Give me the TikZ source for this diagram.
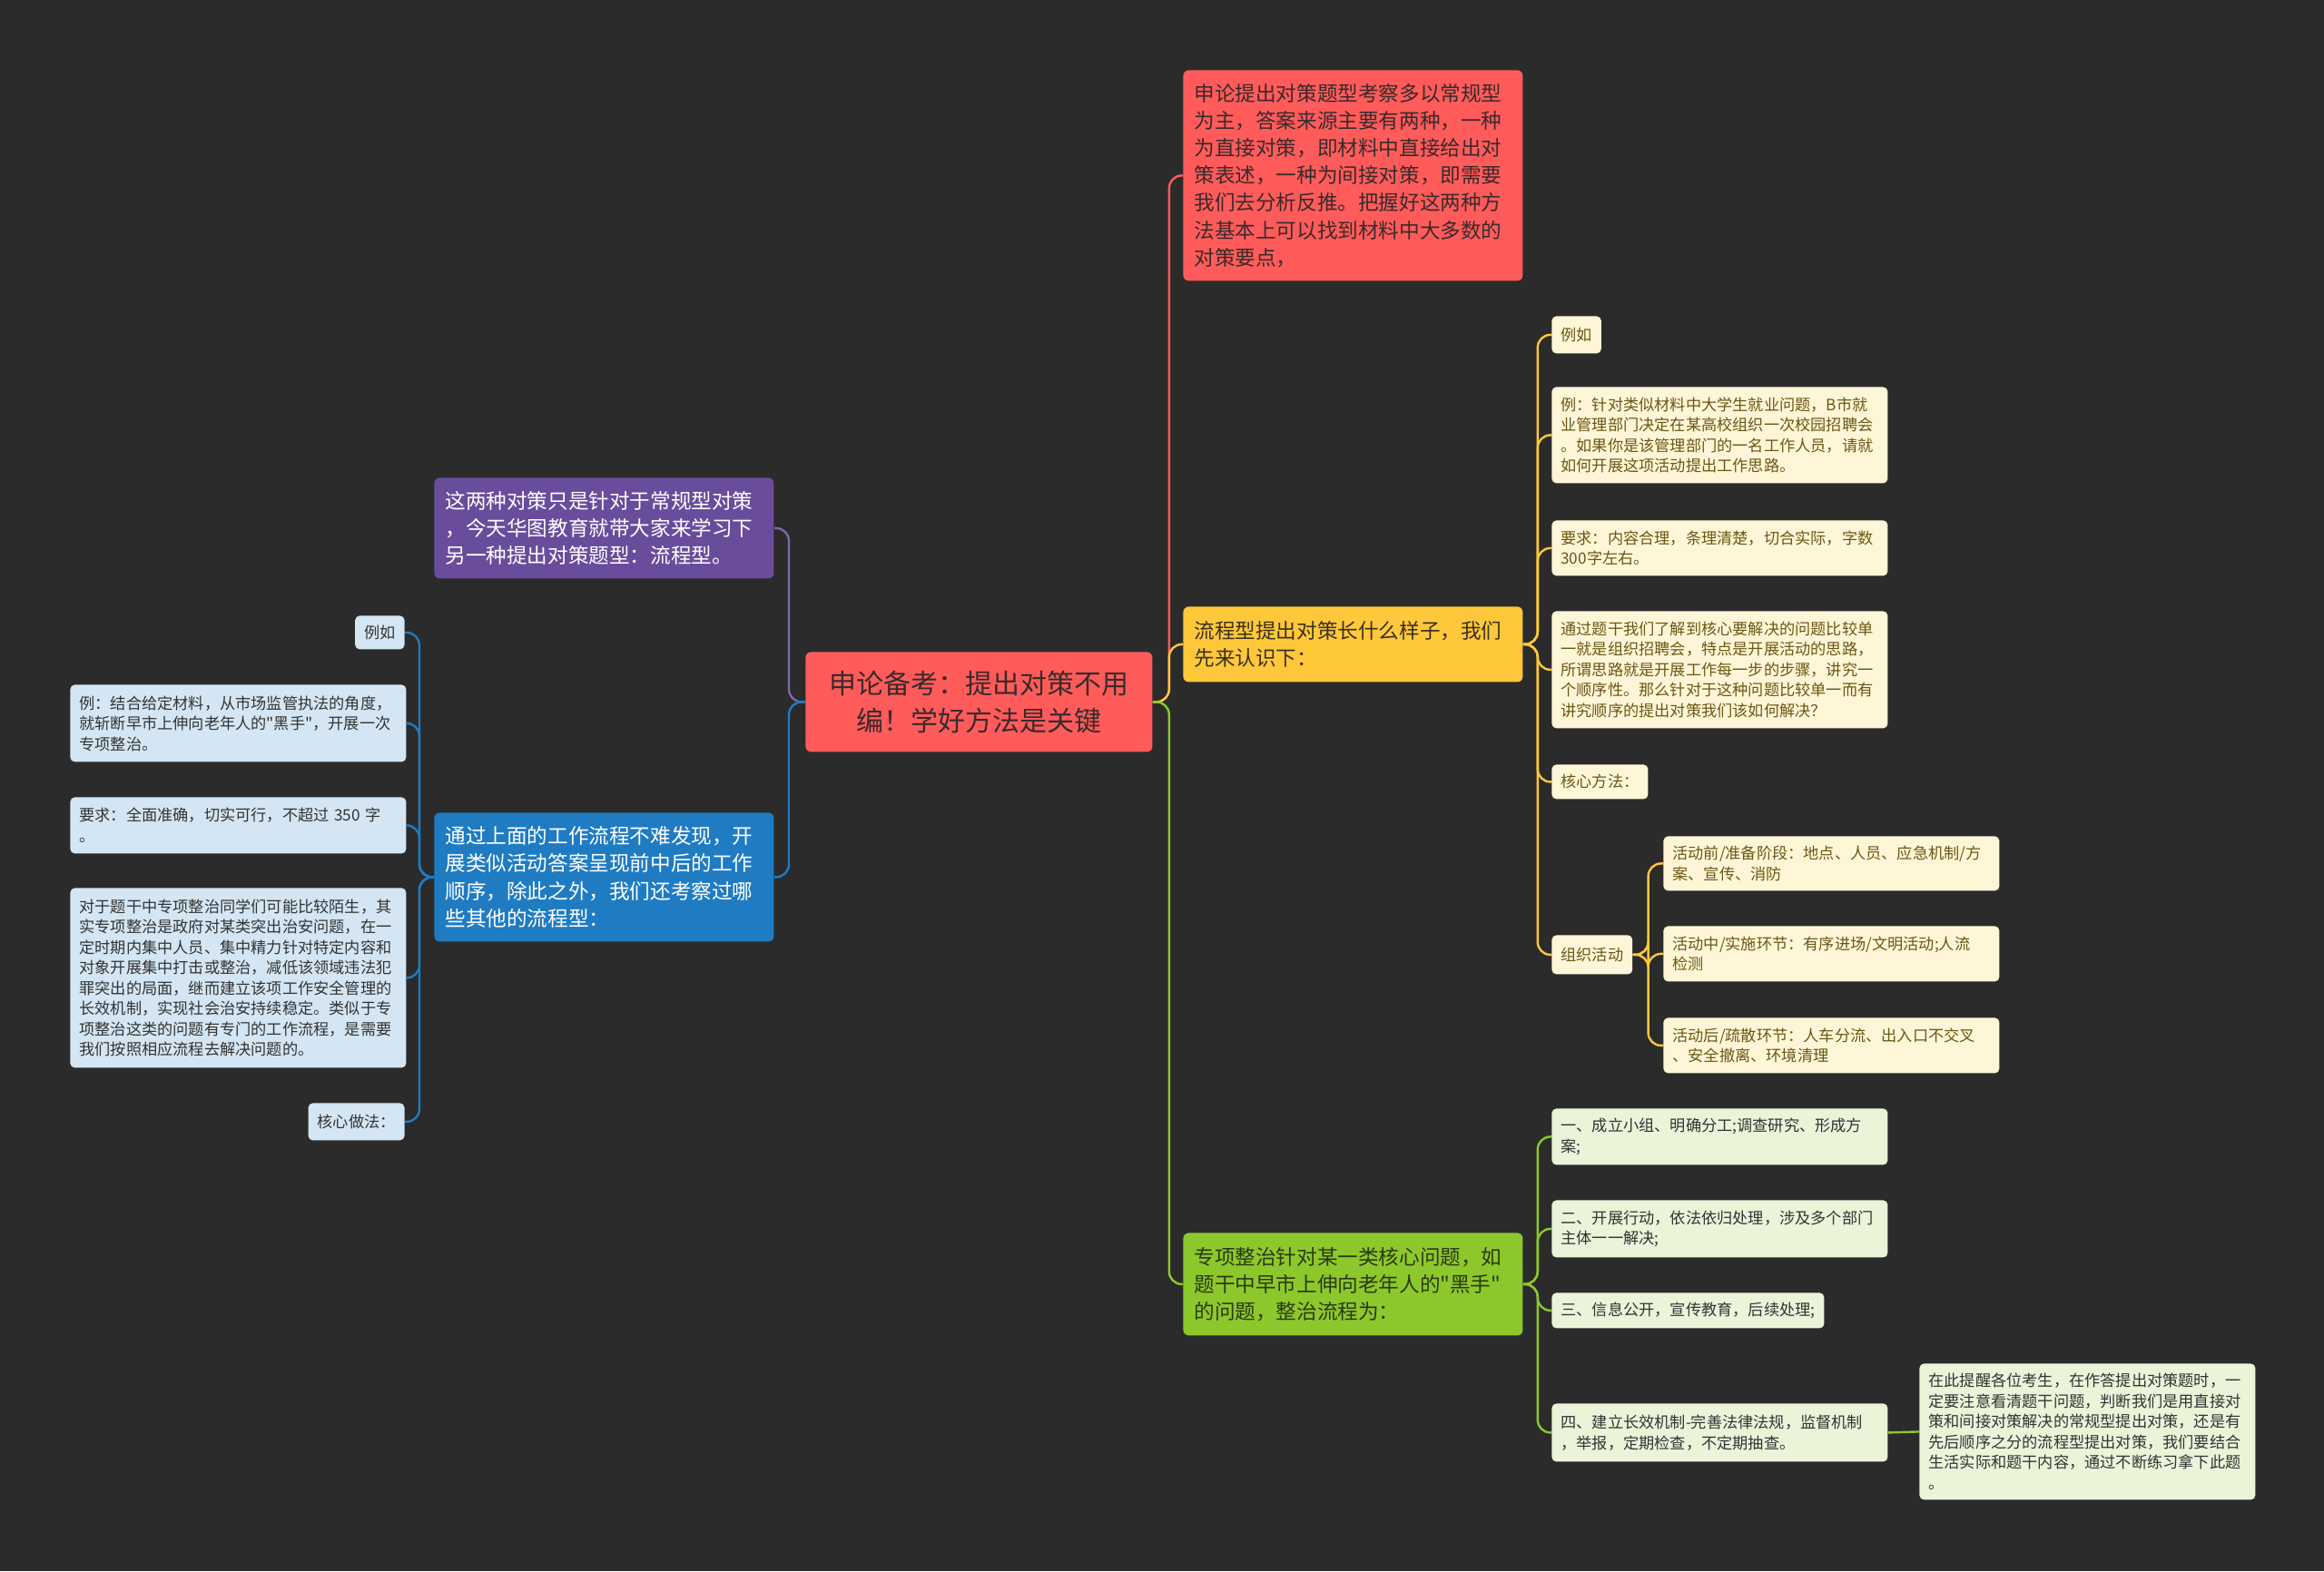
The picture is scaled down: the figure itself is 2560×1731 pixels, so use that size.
\documentclass[tikz,border=0pt]{standalone}
\usepackage{fontspec}
\newfontfamily\cjk{Noto Sans CJK SC}
\definecolor{bg}{HTML}{2B2B2B}
\definecolor{redF}{HTML}{FF5B5B}
\definecolor{redT}{HTML}{3A2A2A}
\definecolor{yelF}{HTML}{FFC83A}
\definecolor{yelT}{HTML}{3A3020}
\definecolor{grnF}{HTML}{8CC82C}
\definecolor{grnT}{HTML}{2B3A12}
\definecolor{purF}{HTML}{6A4C9C}
\definecolor{bluF}{HTML}{1F7CC3}
\definecolor{creF}{HTML}{FFF6D8}
\definecolor{creT}{HTML}{6B5714}
\definecolor{lgrF}{HTML}{EBF3D9}
\definecolor{lbuF}{HTML}{D4E6F3}
\definecolor{leafT}{HTML}{333333}
\tikzset{
  topic/.style={anchor=north west, rounded corners=3pt, inner xsep=6pt, inner ysep=0pt,
    align=left, text width=175pt, font=\cjk\fontsize{11.3pt}{15.1pt}\selectfont},
  leaf/.style={anchor=north west, rounded corners=2.5pt, inner xsep=5pt, inner ysep=0pt,
    align=left, font=\cjk\fontsize{8.6pt}{11.25pt}\selectfont},
  wideleaf/.style={leaf, text width=175pt},
  cream/.style={fill=creF, text=creT},
  lgreen/.style={fill=lgrF, text=leafT},
  lblue/.style={fill=lbuF, text=leafT},
  conn/.style={line width=1.2pt, rounded corners=7pt},
}
\begin{document}
\begin{tikzpicture}[x=0.5pt,y=-0.5pt]
\useasboundingbox (0,0) rectangle (2560,1731);
\fill[bg] (0,0) rectangle (2560,1731);

% center
\node[anchor=north west, rounded corners=3pt, fill=redF, text=redT, minimum width=191pt,
  minimum height=55pt, align=center, inner sep=0pt,
  font=\cjk\fontsize{15pt}{20.5pt}\selectfont] (c) at (887,718)
  {申论备考：提出对策不用\\编！学好方法是关键};

% right main topics
\node[topic, fill=redF, text=redT, minimum height=116pt] (r1) at (1303,77)
  {申论提出对策题型考察多以常规型\\为主，答案来源主要有两种，一种\\为直接对策，即材料中直接给出对\\策表述，一种为间接对策，即需要\\我们去分析反推。把握好这两种方\\法基本上可以找到材料中大多数的\\对策要点，};
\node[topic, fill=yelF, text=yelT, minimum height=41.5pt] (y1) at (1303,668)
  {流程型提出对策长什么样子，我们\\先来认识下：};
\node[topic, fill=grnF, text=grnT, minimum height=56.5pt] (g1) at (1303,1358)
  {专项整治针对某一类核心问题，如\\题干中早市上伸向老年人的"黑手"\\的问题，整治流程为：};

% left main topics
\node[topic, fill=purF, text=white, minimum height=55.5pt] (p1) at (478,526)
  {这两种对策只是针对于常规型对策\\，今天华图教育就带大家来学习下\\另一种提出对策题型：流程型。};
\node[topic, fill=bluF, text=white, minimum height=71pt] (b1) at (478,895)
  {通过上面的工作流程不难发现，开\\展类似活动答案呈现前中后的工作\\顺序，除此之外，我们还考察过哪\\些其他的流程型：};

% yellow children
\node[leaf, cream, minimum height=20.5pt] (y2) at (1709,348) {例如};
\node[wideleaf, cream, minimum height=53pt] (y3) at (1709,426)
  {例：针对类似材料中大学生就业问题，B市就\\业管理部门决定在某高校组织一次校园招聘会\\。如果你是该管理部门的一名工作人员，请就\\如何开展这项活动提出工作思路。};
\node[wideleaf, cream, minimum height=30.5pt] (y4) at (1709,573)
  {要求：内容合理，条理清楚，切合实际，字数\\300字左右。};
\node[wideleaf, cream, minimum height=64.5pt] (y5) at (1709,673)
  {通过题干我们了解到核心要解决的问题比较单\\一就是组织招聘会，特点是开展活动的思路，\\所谓思路就是开展工作每一步的步骤，讲究一\\个顺序性。那么针对于这种问题比较单一而有\\讲究顺序的提出对策我们该如何解决？};
\node[leaf, cream, minimum height=19pt] (y6) at (1709,842) {核心方法：};
\node[leaf, cream, minimum height=21.5pt] (y7) at (1709,1030) {组织活动};
\node[wideleaf, cream, minimum height=30pt] (a1) at (1832,921)
  {活动前/准备阶段：地点、人员、应急机制/方\\案、宣传、消防};
\node[wideleaf, cream, minimum height=30.5pt] (a2) at (1832,1020)
  {活动中/实施环节：有序进场/文明活动;人流\\检测};
\node[wideleaf, cream, minimum height=30.5pt] (a3) at (1832,1121)
  {活动后/疏散环节：人车分流、出入口不交叉\\、安全撤离、环境清理};

% green children
\node[wideleaf, lgreen, minimum height=31pt] (g2) at (1709,1221)
  {一、成立小组、明确分工;调查研究、形成方\\案;};
\node[wideleaf, lgreen, minimum height=31.5pt] (g3) at (1709,1322)
  {二、开展行动，依法依归处理，涉及多个部门\\主体一一解决;};
\node[leaf, lgreen, minimum height=19.5pt] (g4) at (1709,1424)
  {三、信息公开，宣传教育，后续处理;};
\node[wideleaf, lgreen, minimum height=32pt] (g5) at (1709,1546)
  {四、建立长效机制-完善法律法规，监督机制\\，举报，定期检查，不定期抽查。};
\node[wideleaf, lgreen, minimum height=75pt] (g6) at (2114,1502)
  {在此提醒各位考生，在作答提出对策题时，一\\定要注意看清题干问题，判断我们是用直接对\\策和间接对策解决的常规型提出对策，还是有\\先后顺序之分的流程型提出对策，我们要结合\\生活实际和题干内容，通过不断练习拿下此题\\。};

% blue children
\node[leaf, lblue, anchor=north east, minimum height=18.5pt] (b2) at (446,678) {例如};
\node[wideleaf, lblue, minimum height=42.5pt] (b3) at (77,754)
  {例：结合给定材料，从市场监管执法的角度，\\就斩断早市上伸向老年人的"黑手"，开展一次\\专项整治。};
\node[wideleaf, lblue, minimum height=31pt] (b4) at (77,878)
  {要求：全面准确，切实可行，不超过 350 字\\。};
\node[wideleaf, lblue, minimum height=99pt] (b5) at (77,978)
  {对于题干中专项整治同学们可能比较陌生，其\\实专项整治是政府对某类突出治安问题，在一\\定时期内集中人员、集中精力针对特定内容和\\对象开展集中打击或整治，减低该领域违法犯\\罪突出的局面，继而建立该项工作安全管理的\\长效机制，实现社会治安持续稳定。类似于专\\项整治这类的问题有专门的工作流程，是需要\\我们按照相应流程去解决问题的。};
\node[leaf, lblue, anchor=north east, minimum height=20.5pt] (b6) at (446,1215) {核心做法：};

% connectors: center
\draw[conn, redF] (c.east) -- ++(18,0) |- (r1.west);
\draw[conn, yelF] (c.east) -- ++(18,0) |- (y1.west);
\draw[conn, grnF] (c.east) -- ++(18,0) |- (g1.west);
\draw[conn, purF!85!white] (c.west) -- ++(-18,0) |- (p1.east);
\draw[conn, bluF] (c.west) -- ++(-18,0) |- (b1.east);

% yellow
\foreach \n in {y2,y3,y4,y5,y6,y7}
  \draw[conn, yelF] (y1.east) -- ++(16,0) |- (\n.west);
\foreach \n in {a1,a2,a3}
  \draw[conn, yelF] (y7.east) -- ++(17,0) |- (\n.west);

% green
\foreach \n in {g2,g3,g4,g5}
  \draw[conn, grnF] (g1.east) -- ++(16,0) |- (\n.west);
\draw[conn, grnF] (g5.east) -- (g6.west);

% blue
\foreach \n in {b2,b3,b4,b5,b6}
  \draw[conn, bluF] (b1.west) -- ++(-16,0) |- (\n.east);
\end{tikzpicture}
\end{document}
